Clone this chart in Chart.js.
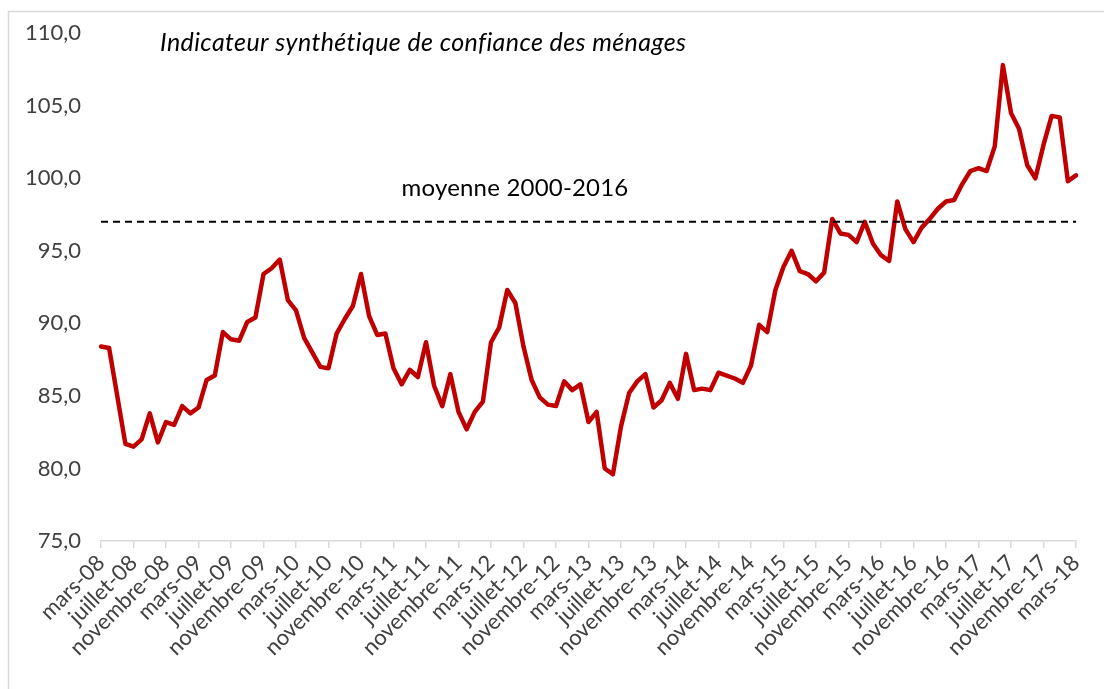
<!DOCTYPE html>
<html>
<head>
<meta charset="utf-8">
<script src="https://cdn.jsdelivr.net/npm/chart.js@4.4.1/dist/chart.umd.min.js"></script>
<style>
    html, body { margin: 0; padding: 0; background: #fff; }
    #wrap { width: 1104px; height: 689px; }
</style>
</head>
<body>
<div id="wrap"><canvas id="confianceChart" width="1104" height="689"></canvas></div>
<script>
// --- données ---
const moisNoms = ['janvier', 'février', 'mars', 'avril', 'mai', 'juin', 'juillet', 'août', 'septembre', 'octobre', 'novembre', 'décembre'];

// mars-08 ... mars-18, une catégorie par mois
const categories = [];
for (let k = 0; k <= 120; k++) {
    const m = (2 + k) % 12;
    const an = 8 + Math.floor((2 + k) / 12);
    categories.push(moisNoms[m] + '-' + String(an).padStart(2, '0'));
}

// étiquettes affichées sur l'axe (une tous les 4 mois)
const tickLabels = [
    'mars-08', 'juillet-08', 'novembre-08', 'mars-09', 'juillet-09', 'novembre-09',
    'mars-10', 'juillet-10', 'novembre-10', 'mars-11', 'juillet-11', 'novembre-11',
    'mars-12', 'juillet-12', 'novembre-12', 'mars-13', 'juillet-13', 'novembre-13',
    'mars-14', 'juillet-14', 'novembre-14', 'mars-15', 'juillet-15', 'novembre-15',
    'mars-16', 'juillet-16', 'novembre-16', 'mars-17', 'juillet-17', 'novembre-17',
    'mars-18'
];

// indicateur synthétique de confiance des ménages
const confiance = [
    88.4, 88.3, 85.0, 81.7, 81.5, 82.0, 83.8, 81.8, 83.2, 83.0, 84.3, 83.8,
    84.2, 86.1, 86.4, 89.4, 88.9, 88.8, 90.1, 90.4, 93.4, 93.8, 94.4, 91.6,
    90.9, 89.0, 88.0, 87.0, 86.9, 89.3, 90.3, 91.2, 93.4, 90.5, 89.2, 89.3,
    86.9, 85.8, 86.8, 86.3, 88.7, 85.7, 84.3, 86.5, 83.9, 82.7, 83.9, 84.6,
    88.7, 89.7, 92.3, 91.4, 88.4, 86.1, 84.9, 84.4, 84.3, 86.0, 85.4, 85.8,
    83.2, 83.9, 80.0, 79.6, 82.9, 85.2, 86.0, 86.5, 84.2, 84.7, 85.9, 84.8,
    87.9, 85.4, 85.5, 85.4, 86.6, 86.4, 86.2, 85.9, 87.1, 89.9, 89.4, 92.3,
    93.9, 95.0, 93.6, 93.4, 92.9, 93.5, 97.2, 96.2, 96.1, 95.6, 97.0, 95.5,
    94.7, 94.3, 98.4, 96.5, 95.6, 96.6, 97.2, 97.9, 98.4, 98.5, 99.6, 100.5,
    100.7, 100.5, 102.2, 107.8, 104.5, 103.4, 100.9, 100.0, 102.3, 104.3, 104.2, 99.8,
    100.2
];

// moyenne 2000-2016
const moyenneRef = 97.0;

const yMin = 75;
const yMax = 110;
const yStep = 5;

const fontFamily = 'Lato, "Open Sans", sans-serif';

// cadre gris + titre + libellé de la moyenne
const decorPlugin = {
    id: 'decor',
    beforeDraw(chart) {
        const ctx = chart.ctx;
        ctx.save();
        ctx.fillStyle = '#ffffff';
        ctx.fillRect(0, 0, chart.width, chart.height);
        ctx.strokeStyle = '#d9d9d9';
        ctx.lineWidth = 1.5;
        ctx.strokeRect(8.5, 11.5, chart.width + 20, chart.height + 20);
        ctx.restore();
    },
    afterDraw(chart) {
        const ctx = chart.ctx;
        const yScale = chart.scales.y;
        ctx.save();
        ctx.fillStyle = '#000000';
        ctx.textBaseline = 'alphabetic';
        ctx.textAlign = 'left';
        ctx.font = 'italic 25px ' + fontFamily;
        ctx.letterSpacing = '0.4px';
        ctx.fillText('Indicateur synthétique de confiance des ménages', 160, 51);

        ctx.letterSpacing = '0.2px';
        ctx.textAlign = 'center';
        ctx.textBaseline = 'middle';
        ctx.font = '24px ' + fontFamily;
        ctx.fillText('moyenne 2000-2016', 515, yScale.getPixelForValue(moyenneRef) - 34);
        ctx.restore();
    }
};

const ctx = document.getElementById('confianceChart').getContext('2d');

new Chart(ctx, {
    type: 'line',
    data: {
        labels: categories,
        datasets: [
            {
                label: 'moyenne 2000-2016',
                data: categories.map(() => moyenneRef),
                borderColor: '#000000',
                borderWidth: 2,
                borderDash: [7, 5],
                pointRadius: 0,
                tension: 0,
                order: 0
            },
            {
                label: 'Indicateur synthétique de confiance des ménages',
                data: confiance,
                borderColor: '#c00000',
                borderWidth: 4.5,
                borderJoinStyle: 'round',
                borderCapStyle: 'round',
                pointRadius: 0,
                tension: 0,
                order: 1
            }
        ]
    },
    options: {
        responsive: false,
        animation: false,
        devicePixelRatio: 1,
        layout: { padding: { top: 32, right: 28, bottom: 0, left: 0 } },
        plugins: {
            legend: { display: false },
            tooltip: { enabled: false }
        },
        scales: {
            x: {
                offset: false,
                grid: {
                    display: true,
                    drawOnChartArea: false,
                    drawTicks: true,
                    tickLength: 7,
                    color: '#d9d9d9',
                    lineWidth: 1.5
                },
                border: { display: true, color: '#d9d9d9', width: 1.5 },
                ticks: {
                    autoSkip: false,
                    minRotation: 45,
                    maxRotation: 45,
                    padding: 2,
                    color: '#404040',
                    font: { family: fontFamily, size: 22 },
                    callback: function (value, index) {
                        const lab = this.getLabelForValue(value);
                        return tickLabels.includes(lab) && index % 4 === 0 ? lab : null;
                    }
                },
                afterFit(scale) { scale.height = 148; }
            },
            y: {
                min: yMin,
                max: yMax,
                grid: { display: false, drawTicks: false },
                border: { display: false },
                ticks: {
                    stepSize: yStep,
                    padding: 20,
                    color: '#404040',
                    font: { family: fontFamily, size: 22 },
                    callback: (v) => v.toFixed(1).replace('.', ',')
                },
                afterFit(scale) { scale.width = 101; }
            }
        }
    },
    plugins: [decorPlugin]
});
</script>
</body>
</html>
